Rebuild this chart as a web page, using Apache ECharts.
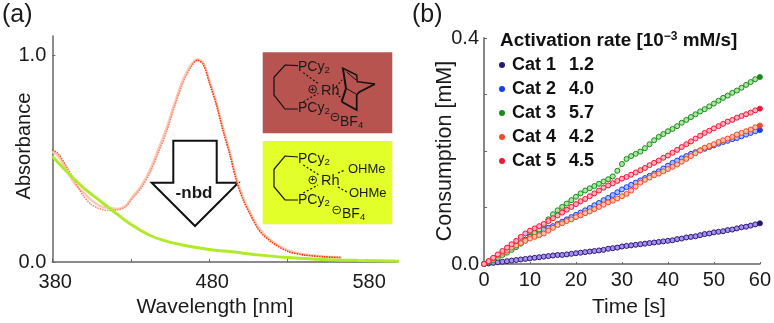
<!DOCTYPE html>
<html><head><meta charset="utf-8">
<style>html,body{margin:0;padding:0;background:#fff}#c{width:774px;height:323px}</style>
<script src="https://cdn.jsdelivr.net/npm/echarts@6/dist/echarts.min.js"></script></head>
<body><div id="c"></div>
<script>
// Panel (a) spectra
const redWl=[380,383.8,389.1,394.4,399.7,405,410.4,415.7,421,426.3,431.6,436.9,442.2,447.5,452.8,458.1,463.4,468.7,472.4,476.2,480.4,484.7,489,493.2,497.4,501.7,505.9,511.2,514.4,520.8,530.3,539.9,552.6,564.3];
const redAbs=[.544,.525,.462,.392,.322,.278,.258,.250,.252,.266,.313,.361,.432,.528,.631,.758,.870,.949,.978,.957,.862,.758,.631,.520,.393,.300,.234,.160,.131,.091,.051,.035,.026,.022];
const redAbs2=[.536,.512,.446,.378,.338,.300,.272,.262,.258,.270,.320,.372,.445,.545,.648,.772,.884,.958,.982,.966,.872,.770,.645,.532,.405,.312,.244,.170,.140,.098,.057,.038,.027,.022];
const greenWl=[380,389,399.7,410.4,421,431,442,452,463,474,485,493,511,530,552,575,601];
const greenAbs=[.513,.440,.361,.297,.234,.178,.130,.103,.083,.068,.056,.051,.035,.022,.013,.008,.004];
// Panel (b) consumption, one value per second
const seconds=[...Array(61).keys()];
const cat1=[0,.001,.002,.003,.004,.005,.006,.007,.008,.009,.010,.011,.012,.013,.014,.015,.016,.016,.017,.018,.019,.020,.021,.022,.023,.024,.025,.027,.028,.029,.031,.032,.033,.034,.035,.036,.037,.038,.039,.040,.041,.042,.044,.045,.047,.048,.049,.051,.053,.054,.056,.057,.058,.060,.061,.063,.065,.066,.068,.070,.072];
const cat2=[0,.004,.009,.014,.018,.023,.027,.032,.037,.043,.049,.054,.058,.061,.064,.067,.071,.075,.079,.083,.087,.091,.095,.099,.104,.108,.113,.117,.122,.127,.132,.136,.140,.144,.148,.152,.156,.160,.164,.169,.174,.179,.183,.187,.191,.195,.198,.201,.204,.207,.210,.213,.216,.218,.221,.223,.226,.229,.232,.235,.237];
const cat3=[0,.003,.007,.011,.016,.020,.025,.030,.036,.042,.048,.055,.061,.069,.079,.088,.095,.101,.107,.113,.119,.125,.130,.134,.138,.142,.146,.150,.155,.165,.177,.186,.191,.195,.199,.205,.212,.219,.225,.230,.235,.239,.244,.250,.255,.260,.265,.270,.274,.279,.284,.289,.294,.298,.303,.307,.312,.317,.322,.327,.331];
const cat4=[0,.005,.010,.015,.020,.024,.029,.033,.037,.041,.045,.048,.051,.054,.059,.064,.069,.072,.076,.079,.083,.086,.090,.093,.097,.101,.105,.109,.112,.116,.120,.124,.130,.137,.144,.149,.153,.157,.160,.164,.168,.172,.176,.181,.186,.191,.196,.201,.206,.209,.212,.216,.219,.222,.225,.229,.232,.235,.238,.242,.245];
const cat5=[0,.005,.011,.017,.023,.029,.035,.041,.048,.054,.059,.063,.067,.071,.076,.081,.086,.091,.096,.101,.106,.111,.115,.120,.125,.130,.135,.139,.143,.147,.151,.154,.158,.162,.166,.170,.175,.179,.183,.188,.192,.197,.202,.207,.212,.217,.222,.227,.232,.236,.240,.244,.248,.252,.255,.259,.262,.265,.268,.272,.275];
const catNames=['Cat 1','Cat 2','Cat 3','Cat 4','Cat 5'];
const catRates=['1.2','4.0','5.7','4.2','4.5'];
const catDark=['#2a1878','#1a3cf0','#1c8a1c','#f04a28','#f01838'];
const catLight=['#a890ee','#a8c0fa','#a8e8a0','#fbc0a8','#fcb0c0'];
const waveTicks=[380,430,480,530,580];
const waveLabels=[380,480,580];

const FONT='"Liberation Sans",Arial,sans-serif';
const pair=(xs,ys)=>xs.map((x,i)=>[x,ys[i]]);
const axisLine={lineStyle:{color:'#666',width:1.5}};
const T=(x,y,text,size,extra)=>({type:'text',x,y,silent:true,style:Object.assign({text,fontSize:size,fontFamily:FONT,fill:'#1a1a1a',textVerticalAlign:'middle',verticalAlign:'middle'},extra||{})});
const P=(pts,w,dash)=>({type:'polyline',silent:true,shape:{points:pts},style:{stroke:'#111',fill:'none',lineWidth:w||1.2,lineDash:dash||null}});
const C=(x,y,label)=>([{type:'circle',silent:true,shape:{cx:x,cy:y,r:3.8},style:{stroke:'#111',fill:'none',lineWidth:.9}},T(x,y,label,8,{align:'center',textAlign:'center',fontWeight:'bold'})]);
const formula=(x,y,main,sub,size)=>T(x,y,'{m|'+main+'}{s|'+sub+'}',size,{rich:{m:{fontSize:size,fontFamily:FONT,fill:'#1a1a1a'},s:{fontSize:size*.68,fontFamily:FONT,fill:'#1a1a1a',verticalAlign:'bottom',padding:[6,0,0,0]}}});

const graphics=[
 T(2,15,'(a)',25),T(412,15,'(b)',25),
 {type:'polygon',silent:true,shape:{points:[[173.3,140.7],[216.7,140.7],[216.7,182.7],[238.3,182.7],[195,226],[151.7,182.7],[173.3,182.7]]},style:{stroke:'#111',fill:'none',lineWidth:2}},
 T(194,193,'-nbd',17,{align:'center',textAlign:'center',fontWeight:'bold'}),
 {type:'rect',silent:true,shape:{x:262.7,y:52.3,width:129.6,height:81},style:{fill:'#b85450'}},
 {type:'rect',silent:true,shape:{x:262.7,y:141,width:129.6,height:83.3},style:{fill:'#e2ff2a'}},
 // upper complex
 P([[298,65.7],[285,65],[274,77.3],[274,95],[285,109],[298,109]]),
 P([[303.3,72.7],[319.3,84.3]],1.2,[2,2]),P([[303.3,101.7],[318.3,93.3]],1.2,[2,2]),
 formula(298,67,'PCy','2',14),formula(298,108,'PCy','2',14),
 T(321,91,'Rh',14.5),...C(312.7,89.3,'+'),...C(335,117,'−'),
 formula(340,122,'BF','4',14),
 P([[336,87],[342,80]],1.2,[2,2]),P([[336,93],[342,99]],1.2,[2,2]),
 P([[343,69],[346,88.3],[341.7,101.7]],2),P([[341.7,67.7],[356.7,75],[357.3,81.7],[375,84]],1.4),P([[346.7,72],[356,80]],1),
 P([[341.7,101.7],[356.7,110],[356.7,95],[359,92.3],[375,84]],1.7),P([[346,88.3],[356,94]],1),
 // lower complex
 P([[298,157],[285,156],[274,169.3],[274,186.7],[285,200],[298,200]]),
 P([[303.3,165],[319,175]],1.2,[2,2]),P([[303.3,193],[318,185]],1.2,[2,2]),
 formula(298,159,'PCy','2',14),formula(298,200,'PCy','2',14),
 T(321,181,'Rh',14.5),...C(312.7,180,'+'),...C(336.7,210,'−'),
 formula(342,214,'BF','4',14),
 T(348,169.5,'OHMe',13),T(349,193.5,'OHMe',13),
 P([[338,173],[345,170]],1.2,[2,2]),P([[338,187],[347,192]],1.2,[2,2]),
 // legend heading
 T(500,41,'{t|Activation rate [10}{u|−3}{t| mM/s]}',18.9,{rich:{t:{fontSize:18.9,fontWeight:'bold',fontFamily:FONT,fill:'#111'},u:{fontSize:12,fontWeight:'bold',fontFamily:FONT,fill:'#111',padding:[0,0,8,0]}}})
];

const chart=echarts.init(document.getElementById('c'),null,{renderer:'canvas'});
const lab={color:'#1a1a1a',fontSize:20,fontFamily:FONT};
const nameStyle={color:'#1a1a1a',fontSize:21,fontFamily:FONT};
const redGrad=new echarts.graphic.LinearGradient(0,0,1,0,[{offset:0,color:'#f2461e'},{offset:.12,color:'#f58a6e'},{offset:.47,color:'#f58a6e'},{offset:.5,color:'#f0380f'},{offset:1,color:'#f0380f'}]);
chart.setOption({
 animation:false,backgroundColor:'#fff',
 textStyle:{fontFamily:FONT},
 grid:[{left:52.3,top:36,width:345.2,height:229.7},{left:484,top:38,width:278,height:229}],
 xAxis:[
  {gridIndex:0,type:'value',min:380,max:600,name:'Wavelength [nm]',nameLocation:'middle',nameGap:34,nameTextStyle:Object.assign({},nameStyle,{padding:[0,20,0,0]}),splitLine:{show:false},axisLine,
   axisTick:{inside:true,length:3,customValues:waveTicks,lineStyle:{color:'#666'}},axisLabel:Object.assign({customValues:waveLabels,margin:10,padding:[0,0,0,6]},lab)},
  {gridIndex:1,type:'value',min:0,max:60,interval:10,name:'Time [s]',nameLocation:'middle',nameGap:33,nameTextStyle:Object.assign({},nameStyle,{padding:[0,0,0,14]}),splitLine:{show:false},axisLine,
   axisTick:{inside:true,length:2,lineStyle:{color:'#666'}},axisLabel:Object.assign({margin:6},lab)}
 ],
 yAxis:[
  {gridIndex:0,type:'value',min:0,max:1.095,name:'Absorbance',nameLocation:'middle',nameGap:18,nameMoveOverlap:false,nameRotate:90,nameTextStyle:Object.assign({},nameStyle,{fontSize:20,padding:[0,0,0,6]}),splitLine:{show:false},axisLine,
   axisTick:{inside:true,length:3,customValues:[0,1],lineStyle:{color:'#666'}},axisLabel:Object.assign({customValues:[0,1],margin:6,formatter:v=>v.toFixed(1)},lab)},
  {gridIndex:1,type:'value',min:0,max:.4,interval:.1,name:'Consumption [mM]',nameLocation:'middle',nameGap:28,nameMoveOverlap:false,nameTextStyle:Object.assign({},nameStyle,{fontSize:21.5}),splitLine:{show:false},axisLine:{lineStyle:{color:'#888',width:2}},
   axisTick:{inside:true,length:3,lineStyle:{color:'#666'}},axisLabel:Object.assign({margin:5,formatter:v=>(Math.abs(v)<1e-9||Math.abs(v-.4)<1e-9)?v.toFixed(1):''},lab)}
 ],
 legend:{orient:'vertical',left:499,top:56,itemWidth:10,itemHeight:6,itemGap:6,icon:'circle',selectedMode:false,padding:0,
  data:catNames.map((n,i)=>({name:n,icon:'circle',itemStyle:{color:catDark[i],borderWidth:0}})),
  formatter:n=>'{a|'+n+'}{b|'+catRates[catNames.indexOf(n)]+'}',
  textStyle:{rich:{a:{fontSize:18,fontWeight:'bold',fontFamily:FONT,color:'#111',width:57},b:{fontSize:18,fontWeight:'bold',fontFamily:FONT,color:'#111'}}}},
 series:[
  {type:'line',name:'red2',xAxisIndex:0,yAxisIndex:0,data:pair(redWl,redAbs2),smooth:.3,showSymbol:false,lineStyle:{color:'#fbc8b4',width:2.4},z:2},
  {type:'line',name:'red1',xAxisIndex:0,yAxisIndex:0,data:pair(redWl,redAbs),smooth:.3,showSymbol:false,lineStyle:{color:redGrad,width:1.6,type:[1.5,1]},z:3},
  {type:'line',name:'green',xAxisIndex:0,yAxisIndex:0,data:pair(greenWl,greenAbs),smooth:.3,showSymbol:false,lineStyle:{color:'#b0ea2a',width:3},z:4,clip:false},
  ...[cat1,cat2,cat3,cat4,cat5].map((v,i)=>({
   type:'line',name:catNames[i],xAxisIndex:1,yAxisIndex:1,z:5+i,showSymbol:true,symbol:'circle',symbolSize:5,clip:false,
   lineStyle:{width:1.5,color:catLight[i]},
   itemStyle:{color:catLight[i],borderColor:catDark[i],borderWidth:1},
   data:seconds.map((t,j)=>j===60?{value:[t,v[j]],itemStyle:{color:catDark[i]},symbolSize:5}:[t,v[j]])
  }))
 ],
 graphic:graphics
});
</script></body></html>
